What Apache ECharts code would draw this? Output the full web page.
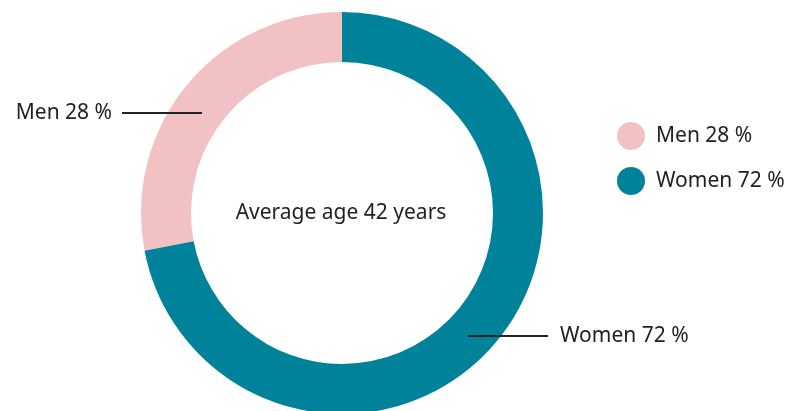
<!DOCTYPE html>
<html>
<head>
<meta charset="utf-8">
<script src="https://cdn.jsdelivr.net/npm/echarts@6/dist/echarts.min.js"></script>
<style>html,body{margin:0;padding:0;background:#fff}#c{width:787px;height:411px}</style>
</head>
<body>
<div id="c"></div>
<script>
var categories = ['Men', 'Women'];
var values = [28, 72];
var colors = ['#F2C1C4', '#00829A'];
var centerText = 'Average age 42 years';

var FONT = '"Noto Sans", "Open Sans", sans-serif';
var FS = 21;
var chart = echarts.init(document.getElementById('c'), null, {renderer: 'canvas'});
function makeData(transparent) {
  return categories.map(function (n, i) {
    return {name: n, value: values[i], itemStyle: {color: transparent ? 'rgba(0,0,0,0)' : colors[i]}};
  });
}
var labelPos = [
  {x: 112, y: 113, align: 'right', line: [[202, 113], [122, 113], [122, 113]]},
  {x: 560, y: 336, align: 'left', line: [[468, 336], [548, 336], [548, 336]]}
];
chart.setOption({
  animation: false,
  legend: {
    orient: 'vertical',
    left: 612,
    top: 117,
    itemWidth: 28,
    itemHeight: 28,
    itemGap: 17,
    icon: 'circle',
    selectedMode: false,
    data: categories.map(function (n, i) { return {name: n, itemStyle: {color: colors[i]}}; }),
    formatter: function (n) {
      return n + ' ' + values[categories.indexOf(n)] + ' %';
    },
    textStyle: {fontSize: FS, color: '#222', fontFamily: FONT, padding: [0, 0, 0, 6]}
  },
  graphic: [{
    type: 'text',
    x: 341,
    y: 213,
    style: {text: centerText, fontSize: FS, fill: '#222', fontFamily: FONT, align: 'center', verticalAlign: 'middle'}
  }],
  series: [{
    type: 'pie',
    z: 2,
    center: [342, 213],
    radius: [151, 201],
    startAngle: 90,
    clockwise: false,
    silent: true,
    emphasis: {disabled: true},
    data: makeData(false),
    label: {show: false},
    labelLine: {show: false}
  }, {
    type: 'pie',
    z: 5,
    center: [342, 213],
    radius: [151, 201],
    startAngle: 90,
    clockwise: false,
    silent: true,
    legendHoverLink: false,
    emphasis: {disabled: true},
    data: makeData(true),
    label: {
      show: true,
      formatter: '{b} {c} %',
      fontSize: FS,
      color: '#222',
      fontFamily: FONT
    },
    labelLine: {show: true, lineStyle: {color: '#222', width: 2}},
    labelLayout: function (p) {
      var l = labelPos[p.dataIndex];
      return {x: l.x, y: l.y, align: l.align, verticalAlign: 'middle', labelLinePoints: l.line};
    }
  }]
});
</script>
</body>
</html>
